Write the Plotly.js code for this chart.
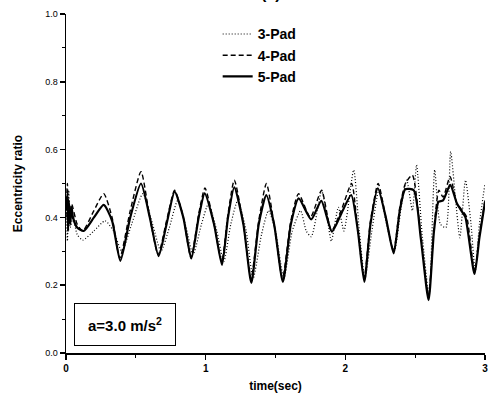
<!DOCTYPE html>
<html>
<head>
<meta charset="utf-8">
<script src="https://cdn.plot.ly/plotly-3.0.1.min.js"></script>
<style>html,body{margin:0;padding:0;background:#fff;}#chart{width:494px;height:406px;}</style>
</head>
<body>
<div id="chart"></div>
<script>
// 5-Pad (solid)
const t5 = [0.00,0.01,0.015,0.02,0.03,0.04,0.05,0.08,0.127,0.20,0.27,0.33,0.389,0.46,0.537,0.60,0.663,0.72,0.778,0.84,0.897,0.95,0.993,1.06,1.117,1.16,1.205,1.27,1.327,1.38,1.434,1.49,1.553,1.61,1.666,1.756,1.828,1.904,1.97,2.042,2.09,2.136,2.18,2.233,2.29,2.346,2.39,2.429,2.49,2.54,2.596,2.635,2.667,2.70,2.751,2.80,2.835,2.86,2.925,2.96,3.00];
const v5 = [0.42,0.47,0.36,0.45,0.38,0.43,0.40,0.37,0.36,0.40,0.437,0.39,0.272,0.40,0.50,0.40,0.286,0.38,0.476,0.40,0.279,0.40,0.471,0.38,0.26,0.40,0.489,0.38,0.207,0.38,0.466,0.38,0.21,0.38,0.456,0.394,0.449,0.358,0.41,0.466,0.36,0.21,0.38,0.486,0.40,0.294,0.42,0.483,0.48,0.34,0.156,0.36,0.446,0.45,0.496,0.44,0.417,0.40,0.233,0.34,0.446];
// 4-Pad (dashed)
const t4 = [0.00,0.01,0.02,0.04,0.08,0.12,0.20,0.27,0.33,0.385,0.46,0.537,0.60,0.66,0.72,0.778,0.84,0.895,0.95,0.995,1.06,1.115,1.16,1.205,1.27,1.325,1.38,1.435,1.49,1.55,1.61,1.665,1.75,1.83,1.90,1.97,2.045,2.09,2.135,2.18,2.235,2.29,2.345,2.39,2.43,2.48,2.54,2.595,2.635,2.67,2.70,2.75,2.80,2.84,2.87,2.925,2.96,3.00];
const v4 = [0.40,0.50,0.38,0.44,0.38,0.36,0.42,0.47,0.40,0.28,0.42,0.535,0.40,0.29,0.39,0.48,0.40,0.28,0.41,0.487,0.38,0.27,0.41,0.51,0.38,0.22,0.39,0.50,0.38,0.22,0.39,0.47,0.40,0.48,0.36,0.42,0.50,0.36,0.22,0.39,0.50,0.40,0.30,0.43,0.50,0.525,0.35,0.17,0.37,0.48,0.46,0.52,0.44,0.42,0.40,0.24,0.35,0.45];
// 3-Pad (dotted)
const t3 = [0.00,0.01,0.02,0.03,0.05,0.08,0.12,0.20,0.28,0.34,0.40,0.47,0.55,0.62,0.68,0.74,0.80,0.86,0.91,0.97,1.02,1.08,1.13,1.18,1.23,1.29,1.34,1.40,1.45,1.50,1.56,1.62,1.68,1.72,1.756,1.80,1.83,1.87,1.90,1.95,1.99,2.06,2.10,2.14,2.19,2.24,2.30,2.35,2.40,2.44,2.48,2.51,2.55,2.60,2.64,2.68,2.72,2.754,2.79,2.82,2.86,2.90,2.93,2.96,3.00];
const v3 = [0.45,0.33,0.48,0.37,0.40,0.35,0.333,0.36,0.39,0.36,0.30,0.38,0.47,0.38,0.30,0.37,0.45,0.37,0.29,0.38,0.44,0.36,0.27,0.38,0.45,0.36,0.22,0.35,0.42,0.36,0.22,0.36,0.42,0.36,0.343,0.42,0.48,0.40,0.33,0.43,0.36,0.54,0.36,0.22,0.36,0.48,0.37,0.30,0.43,0.51,0.42,0.555,0.35,0.17,0.54,0.38,0.37,0.594,0.45,0.34,0.51,0.38,0.24,0.38,0.50];

const seriesNames = ['3-Pad','4-Pad','5-Pad'];
const xTickVals = [0,1,2,3];
const xTickText = ['0','1','2','3'];
const yTickVals = [0,0.2,0.4,0.6,0.8,1.0];
const yTickText = ['0.0','0.2','0.4','0.6','0.8','1.0'];

const traces = [
  {x:t3, y:v3, name:seriesNames[0], mode:'lines', line:{color:'#000', width:1.2, dash:'1px,2px', shape:'spline', smoothing:0.6}},
  {x:t4, y:v4, name:seriesNames[1], mode:'lines', line:{color:'#000', width:1.4, dash:'5px,3px', shape:'spline', smoothing:0.6}},
  {x:t5, y:v5, name:seriesNames[2], mode:'lines', line:{color:'#000', width:2.2, shape:'spline', smoothing:0.6}}
];

const layout = {
  width:494, height:406,
  margin:{l:66, r:9, t:14, b:53},
  paper_bgcolor:'#fff', plot_bgcolor:'#fff',
  font:{family:'Liberation Sans, Arial, sans-serif', color:'#000'},
  showlegend:true,
  legend:{x:0.362, y:0.987, xanchor:'left', yanchor:'top', bgcolor:'rgba(0,0,0,0)',
          font:{size:14, weight:'bold', family:'Liberation Sans, Arial, sans-serif'}, tracegroupgap:0},
  xaxis:{range:[0,3], showgrid:false, zeroline:false, showline:true, linecolor:'#000', linewidth:1.5,
         ticks:'outside', ticklen:5, tickwidth:1.5, tickcolor:'#000',
         tickvals:xTickVals, ticktext:xTickText, tickfont:{size:10, weight:'bold'},
         minor:{dtick:0.5, ticks:'outside', ticklen:3, tickwidth:1, tickcolor:'#000', showgrid:false},
         title:{text:'time(sec)', font:{size:12, weight:'bold'}, standoff:9}},
  yaxis:{range:[0,1], showgrid:false, zeroline:false, showline:true, linecolor:'#000', linewidth:1.5,
         ticks:'outside', ticklen:5, tickwidth:1.5, tickcolor:'#000',
         tickvals:yTickVals, ticktext:yTickText, tickfont:{size:9},
         minor:{dtick:0.1, ticks:'outside', ticklen:3, tickwidth:1, tickcolor:'#000', showgrid:false},
         title:{text:'Eccentricity ratio', font:{size:12, weight:'bold'}, standoff:20}},
  annotations:[
    {xref:'paper', yref:'paper', x:0.1408, y:0.084, xanchor:'center', yanchor:'middle',
     text:'a=3.0 m/s<sup>2</sup>', showarrow:false, font:{size:15, weight:'bold'},
     bordercolor:'#000', borderwidth:1, borderpad:1, width:98, height:39, bgcolor:'#fff'},
    {xref:'paper', yref:'paper', x:0.489, y:1.03, xanchor:'center', yanchor:'bottom',
     text:'(a)', showarrow:false, font:{size:16, weight:'bold'}}
  ]
};

Plotly.newPlot('chart', traces, layout, {displayModeBar:false, staticPlot:true});
</script>
</body>
</html>
